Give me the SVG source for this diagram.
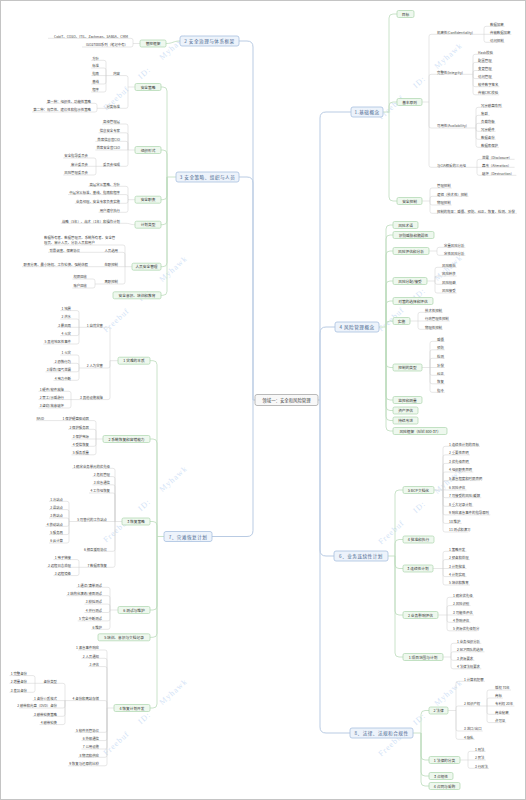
<svg xmlns="http://www.w3.org/2000/svg" width="526" height="800" viewBox="0 0 526 800">
<style>
text{font-family:"Noto Sans CJK SC","Noto Sans",sans-serif;dominant-baseline:central}
.c1{fill:none;stroke:#b9cbe3;stroke-width:1}
.c2{fill:none;stroke:#bcdcbd;stroke-width:0.8}
.c3{fill:none;stroke:#cfcfcf;stroke-width:0.5}
.m rect{fill:#edf3fb;stroke:#a8c0e0;stroke-width:0.8}
.m text{font-size:4.6px;fill:#4a6890;text-anchor:middle;letter-spacing:0.5px}
.s rect{fill:#eef8ee;stroke:#acd6ae;stroke-width:0.7}
.s text{font-size:3.7px;fill:#333;text-anchor:middle}
.l{font-size:3.4px;fill:#444}
.r{text-anchor:end}
.wm{font-family:"Liberation Serif",serif;font-size:8px;fill:#9cc0ee;opacity:0.45;letter-spacing:1px;word-spacing:12px;text-anchor:middle;dominant-baseline:auto}
</style>
<rect x="0" y="0" width="526" height="800" fill="#fff"/>
<rect x="0.5" y="0.5" width="525" height="799" fill="none" stroke="#c4c4c4"/>
<g id="watermarks">
<text class="wm" transform="rotate(-42 147 74)" x="147" y="74">Freebuf ID: Myhawk</text>
<text class="wm" transform="rotate(-42 147 296)" x="147" y="296">Freebuf ID: Myhawk</text>
<text class="wm" transform="rotate(-42 147 506)" x="147" y="506">Freebuf ID: Myhawk</text>
<text class="wm" transform="rotate(-42 147 719)" x="147" y="719">Freebuf ID: Myhawk</text>
<text class="wm" transform="rotate(-42 422 83)" x="422" y="83">Freebuf ID: Myhawk</text>
<text class="wm" transform="rotate(-42 422 295)" x="422" y="295">Freebuf ID: Myhawk</text>
<text class="wm" transform="rotate(-42 422 508)" x="422" y="508">Freebuf ID: Myhawk</text>
<text class="wm" transform="rotate(-42 422 720)" x="422" y="720">Freebuf ID: Myhawk</text>
</g>
<g id="connectors">
<path class="c1" d="M318 400H320M320 400V118Q320 112 326 112H351M320 400V333Q320 327 326 327H335M320 400V550Q320 556 326 556H334M320 400V727Q320 733 326 733H350M255 400H253M253 400V47Q253 41 247 41H239M253 400V183Q253 177 247 177H239M253 400V530.5Q253 536.5 247 536.5H212"/>
<path class="c2" d="M383 112H389M389 112V18Q389 14 393 14H397M389 112V106Q389 102 393 102H397M389 112V197Q389 201 393 201H397
M379 327H386M386 327V229Q386 225 390 225H393M386 327V239Q386 235 390 235H393M386 327V255Q386 251 390 251H393M386 327V285Q386 281 390 281H393M386 327V305Q386 301 390 301H393M386 327V325Q386 321 390 321H393M386 327V363.5Q386 367.5 390 367.5H393M386 327V396Q386 400 390 400H393M386 327V406.5Q386 410.5 390 410.5H393M386 327V416.5Q386 420.5 390 420.5H393M386 327V427Q386 431 390 431H393
M388 556H395M395 556V494Q395 490 399 490H403M395 556V543.5Q395 539.5 399 539.5H403M395 556V564.5Q395 568.5 399 568.5H403M395 556V611Q395 615 399 615H403M395 556V653Q395 657 399 657H403
M413 733H421M421 733V714.5Q421 710.5 425 710.5H429M421 733V756Q421 760 425 760H429M421 733V772Q421 776 425 776H429M421 733V782Q421 786 425 786H429
M180 41C173 41 173 43.5 166 43.5
M176 177H167M167 177V91Q167 87 163 87H161M167 177V154Q167 150 163 150H161M167 177V195.7Q167 199.7 163 199.7H161M167 177V220.7Q167 224.7 163 224.7H161M167 177V262.7Q167 266.7 163 266.7H161M167 177V291.3Q167 295.3 163 295.3H161
M164 536.5H157M157 536.5V364.7Q157 360.7 153 360.7H150M157 536.5V443Q157 439 153 439H150M157 536.5V525.5Q157 521.5 153 521.5H150M157 536.5V606Q157 610 153 610H150M157 536.5V633.3Q157 637.3 153 637.3H150M157 536.5V704Q157 708 153 708H150"/>
<path class="c3" d="M422 102H429M422 201H430M429 251H437M427 281H435M410 321H418M422 367.5H430M434 490H443M433 568.5H443M438 615H447M443 657H451M448 710.5H456M460 760H468
M429 102V36.3Q429 34.3 431 34.3H484M429 102V76.3Q429 74.3 431 74.3H473M429 102V126Q429 128 431 128H476M429 102V165.3Q429 167.3 431 167.3H477
M484 34.3V28.3Q484 26.3 486 26.3H504.6M484 34.3H511.4M484 34.3V40.3Q484 42.3 486 42.3H504.6
M473 74.3V56.3Q473 54.3 475 54.3H493.4M473 74.3V64.4Q473 62.4 475 62.4H492.6M473 74.3V72.5Q473 70.5 475 70.5H492.6M473 74.3V76.6Q473 78.6 475 78.6H492.6M473 74.3V84.7Q473 86.7 475 86.7H499.4M473 74.3V92.8Q473 94.8 475 94.8H499.2
M476 128V109.3Q476 107.3 478 107.3H502.4M476 128V117.3Q476 115.3 478 115.3H489.8M476 128V125.3Q476 123.3 478 123.3H495.6M476 128V129.3Q476 131.3 478 131.3H495.6M476 128V137.3Q476 139.3 478 139.3H495.6M476 128V145.3Q476 147.3 478 147.3H499
M477 167.3V161.3Q477 159.3 479 159.3H514.6M477 167.3H514.6M477 167.3V173.3Q477 175.3 479 175.3H516.4
M430 201V190Q430 188 432 188H451.6M430 201V198.3Q430 196.3 432 196.3H468.6M430 201V203Q430 205 432 205H451.6M430 201V211.3Q430 213.3 432 213.3H517
M437 251V249.3Q437 247.3 439 247.3H465.4M437 251V253.3Q437 255.3 439 255.3H465.4
M435 281V269.3Q435 267.3 437 267.3H456.6M435 281V278Q435 276 437 276H456.6M435 281V282.3Q435 284.3 437 284.3H456.6M435 281V291Q435 293 437 293H456.6
M418 321V314.3Q418 312.3 420 312.3H443M418 321H449.8M418 321V327.3Q418 329.3 420 329.3H443
M430 367.5V343.3Q430 341.3 432 341.3H444.8M430 367.5V351.8Q430 349.8 432 349.8H444.8M430 367.5V360.3Q430 358.3 432 358.3H444.8M430 367.5H444.8M430 367.5V373.3Q430 375.3 432 375.3H444.8M430 367.5V381.8Q430 383.8 432 383.8H444.8M430 367.5V390.3Q430 392.3 432 392.3H444.8
M443 490V448.3Q443 446.3 445 446.3H480M443 490V456.9Q443 454.9 445 454.9H470M443 490V465.4Q443 463.4 445 463.4H470M443 490V474Q443 472 445 472H473.3M443 490V482.6Q443 480.6 445 480.6H480M443 490H466.5M443 490V495.7Q443 497.7 445 497.7H481.3M443 490V504.3Q443 506.3 445 506.3H473.3M443 490V512.9Q443 514.9 445 514.9H490.3M443 490V521.4Q443 523.4 445 523.4H461.6M443 490V530Q443 532 445 532H468.4
M443 568.5V553.3Q443 551.3 445 551.3H466.5M443 568.5V561.6Q443 559.6 445 559.6H469.9M443 568.5H466.5M443 568.5V574.6Q443 576.6 445 576.6H466.5M443 568.5V583Q443 585 445 585H469.9
M447 615V599.3Q447 597.3 449 597.3H473.9M447 615V607.6Q447 605.6 449 605.6H470.5M447 615H473.9M447 615V620.3Q447 622.3 449 622.3H470.5M447 615V628.8Q447 630.8 449 630.8H477.3
M451 657V645.3Q451 643.3 453 643.3H481.3M451 657V653.8Q451 651.8 453 651.8H484.5M451 657V658.3Q451 660.3 453 660.3H474.5M451 657V666.8Q451 668.8 453 668.8H481.3
M456 710.5V683.3Q456 681.3 458 681.3H484.9M456 710.5V708Q456 706 458 706H487M456 710.5V729Q456 731 458 731H482.7M456 710.5V737.3Q456 739.3 458 739.3H474.7
M487 706V692Q487 690 489 690H511M487 706V700Q487 698 489 698H502.8M487 706H514.4M487 706V712.3Q487 714.3 489 714.3H509.6M487 706V720.6Q487 722.6 489 722.6H506.2
M468 760V753.3Q468 751.3 470 751.3H485.7M468 760H485.7M468 760V766.3Q468 768.3 470 768.3H489.1
M140 43.5H133M135 87H128M135 150H128M135 199.7H128M135 224.7C130 224.7 130 223.3 126 223.3H60.8M132 266.7H125M118 360.7H110M103 439H96M122 521.5H115M118 610H110M114 708H107
M133 43.5V40.3Q133 38.3 131 38.3H48M133 43.5V45Q133 47 131 47H82
M128 87V77.6Q128 75.6 126 75.6H106M128 87V106.3Q128 108.3 126 108.3H97
M106 75.6V62.3Q106 60.3 104 60.3H91.2M106 75.6V70Q106 68 104 68H91.2M106 75.6H91.2M106 75.6V82Q106 84 104 84H91.2M106 75.6V90Q106 92 104 92H91.2
M97 108.3V105.3Q97 103.3 95 103.3H46M97 108.3V110Q97 112 95 112H32
M128 150V126Q128 124 126 124H102M128 150V134.8Q128 132.8 126 132.8H98.6M128 150V143.3Q128 141.3 126 141.3H95.4M128 150H95.4M128 150V164.3Q128 166.3 126 166.3H96
M96 166.3V160Q96 158 94 158H63.2M96 166.3H70M96 166.3V173Q96 175 94 175H63.2
M128 199.7V188.3Q128 186.3 126 186.3H88.4M128 199.7V196.6Q128 194.6 126 194.6H68M128 199.7V201.3Q128 203.3 126 203.3H74.8M128 199.7V210.3Q128 212.3 126 212.3H98.6
M125 266.7V247Q125 245 123 245H44M125 266.7V254.3Q125 252.3 123 252.3H48M125 266.7H22M125 266.7V282Q125 284 123 284H95
M95 284V281Q95 279 93 279H72.4M95 284V286Q95 288 93 288H72.4
M110 360.7V329.3Q110 327.3 108 327.3H79M110 360.7V366Q110 368 108 368H79M110 360.7V397.6Q110 399.6 108 399.6H71
M79 327.3V312.6Q79 310.6 77 310.6H60.3M79 327.3V321Q79 319 77 319H60.3M79 327.3H56.9M79 327.3V333.6Q79 335.6 77 335.6H60.3M79 327.3V342Q79 344 77 344H43.3
M79 368V357Q79 355 77 355H60.3M79 368V365.3Q79 363.3 77 363.3H53.5M79 368V369.8Q79 371.8 77 371.8H45.5M79 368V378.3Q79 380.3 77 380.3H53.5
M71 399.6V393.3Q71 391.3 69 391.3H38.5M71 399.6H38.5M71 399.6V406Q71 408 69 408H38.5
M96 439V422.6Q96 420.6 94 420.6H36M96 439V431.3Q96 429.3 94 429.3H68M96 439H71.5M96 439V444.3Q96 446.3 94 446.3H71.5M96 439V452.8Q96 454.8 94 454.8H71.5
M115 521.5V470.3Q115 468.3 113 468.3H72M115 521.5V478.6Q115 476.6 113 476.6H92.5M115 521.5V486.8Q115 484.8 113 484.8H92.5M115 521.5V495Q115 493 113 493H89M115 521.5H69M115 521.5V549.3Q115 551.3 113 551.3H85.7M115 521.5V565.3Q115 567.3 113 567.3H79
M69 521.5V503.3Q69 501.3 67 501.3H49M69 521.5V511.6Q69 509.6 67 509.6H49M69 521.5V520Q69 518 67 518H49M69 521.5V524.3Q69 526.3 67 526.3H45.5M69 521.5V532.6Q69 534.6 67 534.6H49M69 521.5V541Q69 543 67 543H49
M79 567.3V561.6Q79 559.6 77 559.6H53.5M79 567.3H46.7M79 567.3V573.6Q79 575.6 77 575.6H53.5
M110 610V589.3Q110 587.3 108 587.3H76.5M110 610V597.7Q110 595.7 108 595.7H66.3M110 610V606.1Q110 604.1 108 604.1H84.5M110 610V610.5Q110 612.5 108 612.5H84.5M110 610V618.9Q110 620.9 108 620.9H77.7M110 610V627.3Q110 629.3 108 629.3H91.3
M107 708V652Q107 650 105 650H78M107 708V660.3Q107 658.3 105 658.3H81.5M107 708V668.6Q107 666.6 105 666.6H88.3M107 708V702.6Q107 700.6 105 700.6H65M107 708V730.3Q107 732.3 105 732.3H74.7M107 708V738.6Q107 740.6 105 740.6H81.5M107 708V747Q107 749 105 749H81.5M107 708V755.3Q107 757.3 105 757.3H78M107 708V763.8Q107 765.8 105 765.8H67.9
M65 700.6V685.3Q65 683.3 63 683.3H35M65 700.6H32.7M65 700.6V706Q65 708 63 708H19M65 700.6V714.3Q65 716.3 63 716.3H32.7M65 700.6V722.6Q65 724.6 63 724.6H39.5
M35 683.3V677.6Q35 675.6 33 675.6H9.5M35 683.3H9.5M35 683.3V690.3Q35 692.3 33 692.3H9.5"/>
</g>
<g id="root"><rect x="255" y="394.5" width="63" height="11" rx="2" fill="#f8f8f8" stroke="#aaa" stroke-width="0.8"/><text x="286.5" y="400" font-size="4.4" fill="#444" text-anchor="middle">领域一：安全和风险管理</text></g>
<g id="m1" class="m"><rect x="351" y="107" width="32" height="10" rx="2"/><text x="367" y="112">1.基础概念</text></g>
<g id="m4" class="m"><rect x="335" y="322" width="44" height="10" rx="2"/><text x="357" y="327">4 风险管理概念</text></g>
<g id="m6" class="m"><rect x="334" y="551" width="54" height="10" rx="2"/><text x="361" y="556">6、业务连续性计划</text></g>
<g id="m8" class="m"><rect x="350" y="728" width="63" height="10" rx="2"/><text x="381.5" y="733">8、法律、法规和合规性</text></g>
<g id="m2" class="m"><rect x="180" y="36" width="59" height="10" rx="2"/><text x="209.5" y="41">2 安全治理与体系框架</text></g>
<g id="m3" class="m"><rect x="176" y="172" width="63" height="10" rx="2"/><text x="207.5" y="177">3 安全策略、组织与人员</text></g>
<g id="m7" class="m"><rect x="164" y="531.5" width="48" height="10" rx="2"/><text x="188" y="536.5">7、灾难恢复计划</text></g>
<g id="s-mb" class="s"><rect x="397" y="10.5" width="17" height="7" rx="1.5"/><text x="405.5" y="14">目标</text></g>
<g id="s-jbyz" class="s"><rect x="397" y="98.5" width="25" height="7" rx="1.5"/><text x="409.5" y="102">基本原则</text></g>
<g id="s-aqkz" class="s"><rect x="397" y="197.5" width="25" height="7" rx="1.5"/><text x="409.5" y="201">安全控制</text></g>
<g id="s-fxsy" class="s"><rect x="393" y="221.5" width="25" height="7" rx="1.5"/><text x="405.5" y="225">风险术语</text></g>
<g id="s-sbwx" class="s"><rect x="393" y="231.5" width="41" height="7" rx="1.5"/><text x="413.5" y="235">识别威胁和脆弱性</text></g>
<g id="s-fxpg" class="s"><rect x="393" y="247.5" width="36" height="7" rx="1.5"/><text x="411" y="251">风险评估和分析</text></g>
<g id="s-fxfp" class="s"><rect x="393" y="277.5" width="34" height="7" rx="1.5"/><text x="410" y="281">风险分配/接受</text></g>
<g id="s-dc" class="s"><rect x="393" y="297.5" width="40" height="7" rx="1.5"/><text x="413" y="301">对策的选择和评估</text></g>
<g id="s-ss" class="s"><rect x="393" y="317.5" width="17" height="7" rx="1.5"/><text x="401.5" y="321">实施</text></g>
<g id="s-kzlx" class="s"><rect x="393" y="364" width="29" height="7" rx="1.5"/><text x="407.5" y="367.5">控制的类型</text></g>
<g id="s-jk" class="s"><rect x="393" y="396.5" width="29" height="7" rx="1.5"/><text x="407.5" y="400">监控和测量</text></g>
<g id="s-zcpg" class="s"><rect x="393" y="407" width="25" height="7" rx="1.5"/><text x="405.5" y="410.5">资产评估</text></g>
<g id="s-cxgj" class="s"><rect x="393" y="417" width="25" height="7" rx="1.5"/><text x="405.5" y="420.5">持续改进</text></g>
<g id="s-fxkj" class="s"><rect x="393" y="427.5" width="54" height="7" rx="1.5"/><text x="420" y="431">风险框架（Nist 800-37）</text></g>
<g id="s-bcp5" class="s"><rect x="403" y="486.5" width="31" height="7" rx="1.5"/><text x="418.5" y="490">5 BCP文档化</text></g>
<g id="s-bcp4" class="s"><rect x="403" y="536" width="31" height="7" rx="1.5"/><text x="418.5" y="539.5">4 批准和执行</text></g>
<g id="s-bcp3" class="s"><rect x="403" y="565" width="30" height="7" rx="1.5"/><text x="418" y="568.5">3 连续性计划</text></g>
<g id="s-bcp2" class="s"><rect x="403" y="611.5" width="35" height="7" rx="1.5"/><text x="420.5" y="615">2 业务影响评估</text></g>
<g id="s-bcp1" class="s"><rect x="403" y="653.5" width="40" height="7" rx="1.5"/><text x="423" y="657">1 项目范围与计划</text></g>
<g id="s-fl2" class="s"><rect x="429" y="707" width="19" height="7" rx="1.5"/><text x="438.5" y="710.5">2 法律</text></g>
<g id="s-fl1" class="s"><rect x="429" y="756.5" width="31" height="7" rx="1.5"/><text x="444.5" y="760">1 法律的分类</text></g>
<g id="s-fl3" class="s"><rect x="429" y="772.5" width="24" height="7" rx="1.5"/><text x="441" y="776">3 合规性</text></g>
<g id="s-fl4" class="s"><rect x="429" y="782.5" width="31" height="7" rx="1.5"/><text x="444.5" y="786">4 合同与采购</text></g>
<g id="s-gkkj" class="s"><rect x="140" y="40" width="26" height="7" rx="1.5"/><text x="153" y="43.5">管控框架</text></g>
<g id="s-aqcl" class="s"><rect x="135" y="83.5" width="26" height="7" rx="1.5"/><text x="148" y="87">安全策略</text></g>
<g id="s-zzxs" class="s"><rect x="135" y="146.5" width="26" height="7" rx="1.5"/><text x="148" y="150">组织形式</text></g>
<g id="s-aqzz" class="s"><rect x="135" y="196.2" width="26" height="7" rx="1.5"/><text x="148" y="199.7">安全职责</text></g>
<g id="s-jhlx" class="s"><rect x="135" y="221.2" width="26" height="7" rx="1.5"/><text x="148" y="224.7">计划类型</text></g>
<g id="s-ryaq" class="s"><rect x="132" y="263.2" width="29" height="7" rx="1.5"/><text x="146.5" y="266.7">人员安全管理</text></g>
<g id="s-aqys" class="s"><rect x="113" y="291.8" width="48" height="7" rx="1.5"/><text x="137" y="295.3">安全意识、培训和教育</text></g>
<g id="s-zn1" class="s"><rect x="118" y="357.2" width="32" height="7" rx="1.5"/><text x="134" y="360.7">1 灾难的本质</text></g>
<g id="s-zn2" class="s"><rect x="103" y="435.5" width="47" height="7" rx="1.5"/><text x="126.5" y="439">2 系统恢复和容错能力</text></g>
<g id="s-zn3" class="s"><rect x="122" y="518" width="28" height="7" rx="1.5"/><text x="136" y="521.5">3 恢复策略</text></g>
<g id="s-zn6" class="s"><rect x="118" y="606.5" width="32" height="7" rx="1.5"/><text x="134" y="610">6 测试与维护</text></g>
<g id="s-zn5" class="s"><rect x="98" y="633.8" width="52" height="7" rx="1.5"/><text x="124" y="637.3">5 培训、意识与文档记录</text></g>
<g id="s-zn4" class="s"><rect x="114" y="704.5" width="36" height="7" rx="1.5"/><text x="132" y="708">4 恢复计划开发</text></g>
<g id="leaves-right" class="l">
<text x="437" y="32">机密性(Confidentiality)</text>
<text x="437" y="72">完整性(Integrity)</text>
<text x="437" y="125.7">可用性(Availability)</text>
<text x="437" y="165">与CIA相反的三元组</text>
<text x="490" y="24">数据加密</text><text x="490" y="32">传输数据加密</text><text x="490" y="40">访问控制</text>
<text x="478" y="52">Hash校验</text><text x="478" y="60.1">配置管理</text><text x="478" y="68.2">变更管理</text><text x="478" y="76.3">访问管理</text><text x="478" y="84.4">软件数字签名</text><text x="478" y="92.5">传输CRC校验</text>
<text x="481" y="105">冗余磁盘阵列</text><text x="481" y="113">集群</text><text x="481" y="121">负载均衡</text><text x="481" y="129">冗余硬件</text><text x="481" y="137">数据备份</text><text x="481" y="145">数据库保护</text>
<text x="482" y="157">泄露（Disclosure）</text><text x="482" y="165">篡改（Alteration）</text><text x="482" y="173">破坏（Destruction）</text>
<text x="437" y="185.7">管理控制</text><text x="437" y="194">逻辑（技术性）控制</text><text x="437" y="202.7">物理控制</text><text x="437" y="211">控制的效果：威慑、预防、纠正、恢复、检测、补偿</text>
<text x="444" y="245">定量风险分析</text><text x="444" y="253">定性风险分析</text>
<text x="442" y="265">风险降低</text><text x="442" y="273.7">风险转移</text><text x="442" y="282">风险规避</text><text x="442" y="290.7">风险接受</text>
<text x="425" y="310">技术性控制</text><text x="425" y="318.7">行政管理性控制</text><text x="425" y="327">物理性控制</text>
<text x="437" y="339">威慑</text><text x="437" y="347.5">预防</text><text x="437" y="356">检测</text><text x="437" y="365.2">补偿</text><text x="437" y="373">纠正</text><text x="437" y="381.5">恢复</text><text x="437" y="390">指令</text>
<text x="449" y="444">1 连续性计划的目标</text><text x="449" y="452.6">2 重要性声明</text><text x="449" y="461.1">3 优先级声明</text><text x="449" y="469.7">4 组织职责声明</text><text x="449" y="478.3">5 紧急程度和时限声明</text><text x="449" y="487.7">6 风险评估</text><text x="449" y="495.4">7 可接受的风险/缓解</text><text x="449" y="504">8 重大记录计划</text><text x="449" y="512.6">9 响应紧急事件的指导原则</text><text x="449" y="521.1">10 维护</text><text x="449" y="529.7">11 测试和演习</text>
<text x="449" y="549">1 策略开发</text><text x="449" y="557.3">2 预备和处理</text><text x="449" y="566.2">3 计划批准</text><text x="449" y="574.3">4 计划实现</text><text x="449" y="582.7">5 培训和教育</text>
<text x="453" y="595">1 确定优先级</text><text x="453" y="603.3">2 风险识别</text><text x="453" y="612.7">3 可能性评估</text><text x="453" y="620">4 影响评估</text><text x="453" y="628.5">5 资源优先级划分</text>
<text x="457" y="641">1 业务组织分析</text><text x="457" y="649.5">2 BCP团队的选择</text><text x="457" y="658">3 资源要求</text><text x="457" y="666.5">4 法律法规要求</text>
<text x="464" y="679">1 计算机犯罪</text><text x="464" y="703.7">2 知识产权</text><text x="464" y="728.7">3 进口/出口</text><text x="464" y="737">4 隐私</text>
<text x="495" y="687.7">版权 70年</text><text x="495" y="695.7">商标</text><text x="495" y="703.7">专利权 20年</text><text x="495" y="712">商业秘密</text><text x="495" y="720.3">许可证</text>
<text x="475" y="749">1 刑法</text><text x="475" y="757.7">2 民法</text><text x="475" y="766">3 行政法</text>
</g>
<g id="leaves-left" class="l r">
<text x="128" y="36">CobiT、COSO、ITIL、Zachman、SABSA、CMM</text><text x="128" y="44.7">ISO27000系列（笔记中有）</text>
<text x="120" y="73.3">内容</text><text x="120" y="106">分类标准</text>
<text x="99" y="58">方针</text><text x="99" y="65.7">标准</text><text x="99" y="73.3">指南</text><text x="99" y="81.7">基线</text><text x="99" y="89.7">程序</text>
<text x="91" y="101">第一种：组织性、功能性策略</text><text x="91" y="109.7">第二种：规章性、建议性和指示性策略</text>
<text x="120" y="121.7">高级管理层</text><text x="120" y="130.5">信息安全专家</text><text x="120" y="139">首席信息官CIO</text><text x="120" y="147.7">首席安全官CSO</text><text x="120" y="164">委员会组成</text>
<text x="88" y="155.7">安全指导委员会</text><text x="88" y="164">审计委员会</text><text x="88" y="172.7">风险管理委员会</text>
<text x="120" y="184">高层定义策略、方针</text><text x="120" y="192.3">中层定义标准、基线、指南和程序</text><text x="120" y="201">业务经理、安全专家负责实施</text><text x="120" y="210">用户遵守执行</text>
<text x="120" y="221">战略（5年）、战术（1年）和操作计划</text>
<text x="118" y="250">人员选用</text><text x="80" y="250">背景调查、保密协议</text>
<text x="118" y="264.3">在职控制</text><text x="88" y="264.3">职责分离、最小特权、工作轮换、强制休假</text>
<text x="118" y="281.7">离职控制</text><text x="87" y="276.7">权限回收</text><text x="87" y="285.7">账户回收</text>
<text x="103" y="325">1 自然灾害</text><text x="103" y="365.7">2 人为灾害</text><text x="103" y="397.3">3 其他设施故障</text>
<text x="71" y="308.3">1 地震</text><text x="71" y="316.7">2 洪水</text><text x="71" y="325">3 暴风雨</text><text x="71" y="333.3">4 火灾</text><text x="71" y="341.7">5 其他地区性事件</text>
<text x="71" y="352.7">1 火灾</text><text x="71" y="361">2 恐怖行为</text><text x="71" y="369.5">3 爆炸/煤气泄漏</text><text x="71" y="378">4 电力中断</text>
<text x="64" y="389">1 硬件/软件故障</text><text x="64" y="397.3">2 罢工/示威游行</text><text x="64" y="405.7">3 盗窃/故意破坏</text>
<text x="89" y="418.3">1 保护硬盘驱动器</text><text x="44" y="418.3">RAID</text><text x="89" y="427">2 保护服务器</text><text x="89" y="436.7">3 保护电源</text><text x="89" y="444">4 受信恢复</text><text x="89" y="452.5">5 服务质量</text>
<text x="110" y="466">1 确定业务单元的优先级</text><text x="110" y="474.3">2 危机管理</text><text x="110" y="482.5">3 应急通信</text><text x="110" y="490.7">4 工作组恢复</text><text x="107" y="519.2">5 可替代的工作站点</text><text x="107" y="549">6 相互援助协议</text><text x="107" y="565">7 数据库恢复</text>
<text x="63" y="499">1 冷站点</text><text x="63" y="507.3">2 温站点</text><text x="63" y="515.7">3 热站点</text><text x="63" y="524">4 移动站点</text><text x="63" y="532.3">5 服务局</text><text x="63" y="540.7">6 云计算</text>
<text x="71" y="557.3">1 电子链接</text><text x="71" y="565">2 远程日志处理</text><text x="71" y="573.3">3 远程镜像</text>
<text x="102" y="585">1 通读/清单测试</text><text x="102" y="593.4">2 结构化演练/桌面测试</text><text x="102" y="601.8">3 模拟测试</text><text x="102" y="610.2">4 并行测试</text><text x="102" y="618.6">5 完全中断测试</text><text x="102" y="627">6 维护</text>
<text x="99" y="647.7">1 紧急事件响应</text><text x="99" y="656">2 人员通知</text><text x="99" y="664.3">3 评估</text><text x="99" y="698.3">4 备份和离站存储</text><text x="99" y="730">5 软件托管协议</text><text x="99" y="738.3">6 外部通信</text><text x="99" y="746.7">7 公用设施</text><text x="99" y="755">8 物流和供应</text><text x="99" y="763.5">9 恢复与还原的比较</text>
<text x="57" y="681">备份类型</text><text x="57" y="698.3">1 备份介质格式</text><text x="57" y="705.7">2 磁带和光盘（DVD）备份</text><text x="57" y="714">3 磁带轮换策略</text><text x="57" y="722.3">4 磁带轮换</text>
<text x="27" y="673.3">1 完整备份</text><text x="27" y="681">2 增量备份</text><text x="27" y="690">3 差异备份</text>
</g>
<g id="leaf-multiline" class="l"><text x="44" y="237.3">数据所有者、数据管理员、系统所有者、安全管</text><text x="44" y="242.7">理员、审计人员、分析人员和用户</text></g>
</svg>
